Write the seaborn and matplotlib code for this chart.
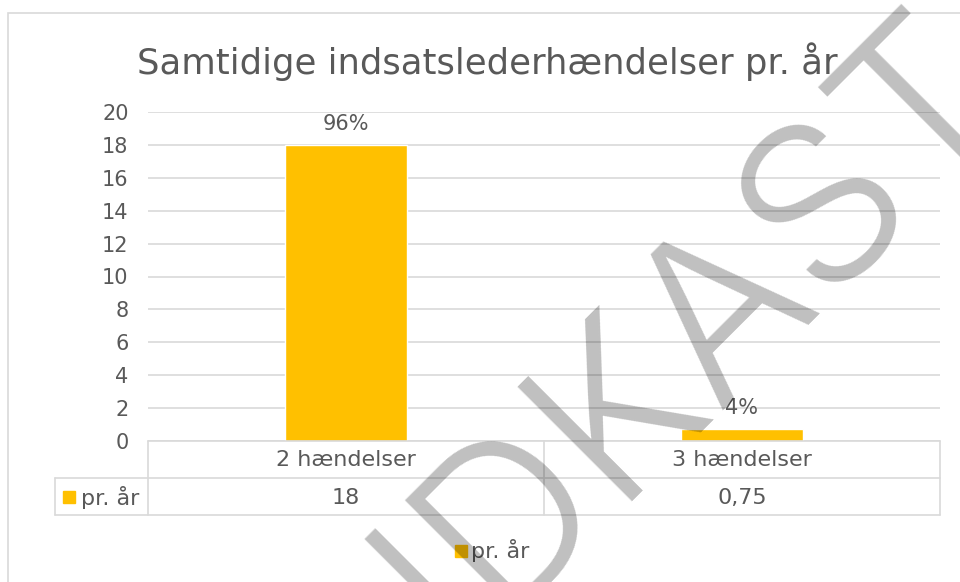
import matplotlib
matplotlib.use("Agg")
import matplotlib.pyplot as plt
import seaborn as sns

# data
categories = ["2 hændelser", "3 hændelser"]
values = [18, 0.75]
series_name = "pr. år"
title = "Samtidige indsatslederhændelser pr. år"
yticks = [0, 2, 4, 6, 8, 10, 12, 14, 16, 18, 20]
watermark = "UDKAST"

bar_color = "#FFC000"
text_color = "#595959"
line_color = "#D9D9D9"

sns.set_theme(style="white")
plt.rcParams["font.family"] = ["DejaVu Sans"]

W, H = 960, 582
fig = plt.figure(figsize=(W / 100, H / 100), dpi=100)

def fx(px):
    return px / W

def fy(py):
    return 1 - py / H

# outer chart border (runs off the right and bottom edges)
fig.patches.append(plt.Rectangle((fx(8), fy(700)), fx(1000), 687 / H,
                                 transform=fig.transFigure, fill=False,
                                 edgecolor=line_color, linewidth=1.2))

left, right, top, bottom = 148, 940, 112, 441
ax = fig.add_axes([fx(left), fy(bottom), fx(right - left), (bottom - top) / H])

sns.barplot(x=categories, y=values, color=bar_color, width=0.31, ax=ax,
            saturation=1)
ax.set_xlim(-0.5, len(categories) - 0.5)
ax.set_ylim(0, 20)
ax.set_yticks(yticks)
ax.set_yticklabels([str(t) for t in yticks], color=text_color, fontsize=15)
ax.tick_params(axis="y", length=0, pad=14)
ax.set_xticks([])
ax.set_xlabel("")
ax.set_ylabel("")
ax.yaxis.grid(True, color=line_color, linewidth=1.2)
ax.set_axisbelow(True)
for s in ax.spines.values():
    s.set_visible(False)

# percentage labels
total = sum(values)
for i, v in enumerate(values):
    ax.annotate(f"{v / total:.0%}", (i, v), xytext=(0, 8), textcoords="offset points",
                ha="center", va="bottom", color=text_color, fontsize=15)

fig.text(fx(487), fy(62), title, ha="center", va="center",
         color=text_color, fontsize=25.5)

# data table below the axis
row1, row2, row3 = 441, 478, 515
tab_left = 55
lw = 1.2
fig.add_artist(plt.Line2D([fx(left), fx(right)], [fy(row1)] * 2, color=line_color, lw=lw))
fig.add_artist(plt.Line2D([fx(tab_left), fx(right)], [fy(row2)] * 2, color=line_color, lw=lw))
fig.add_artist(plt.Line2D([fx(tab_left), fx(right)], [fy(row3)] * 2, color=line_color, lw=lw))
fig.add_artist(plt.Line2D([fx(tab_left)] * 2, [fy(row2), fy(row3)], color=line_color, lw=lw))
n = len(categories)
cell_w = (right - left) / n
for k in range(n + 1):
    xk = left + k * cell_w
    fig.add_artist(plt.Line2D([fx(xk)] * 2, [fy(row1), fy(row3)], color=line_color, lw=lw))
for i, (c, v) in enumerate(zip(categories, values)):
    xc = left + (i + 0.5) * cell_w
    fig.text(fx(xc), fy((row1 + row2) / 2 + 1), c, ha="center", va="center",
             color=text_color, fontsize=16)
    label = f"{v:g}".replace(".", ",")
    fig.text(fx(xc), fy((row2 + row3) / 2 + 1), label, ha="center", va="center",
             color=text_color, fontsize=16)
# row header with key
fig.patches.append(plt.Rectangle((fx(63), fy(503)), fx(12), 12 / H,
                                 transform=fig.transFigure, color=bar_color))
fig.text(fx(81), fy((row2 + row3) / 2 + 1), series_name, ha="left", va="center",
         color=text_color, fontsize=16)

# legend
fig.patches.append(plt.Rectangle((fx(455), fy(557)), fx(12), 12 / H,
                                 transform=fig.transFigure, color=bar_color))
fig.text(fx(471), fy(551), series_name, ha="left", va="center",
         color=text_color, fontsize=16)

# draft watermark
fig.text(fx(660), fy(371), watermark, ha="center", va="center", rotation=45,
         rotation_mode="anchor", fontsize=160, family="Inter", fontweight=300,
         color="black", alpha=0.25)

fig.savefig("out.png", dpi=100)
